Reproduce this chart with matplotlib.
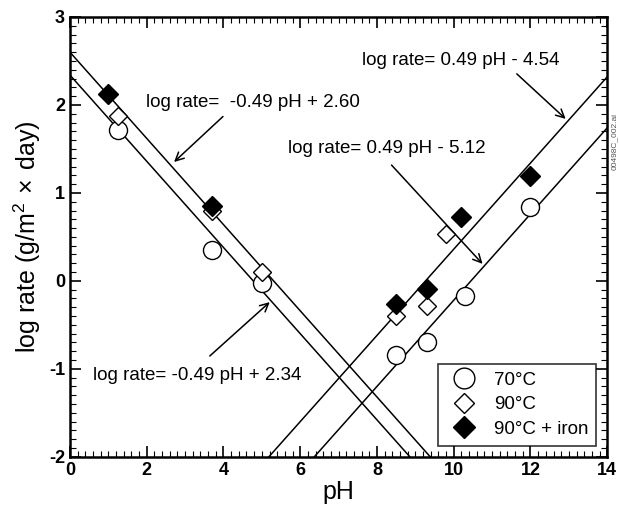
import numpy as np
import matplotlib
matplotlib.use("Agg")
import matplotlib.pyplot as plt
from matplotlib.ticker import MultipleLocator

plt.rcParams['font.family'] = ['Liberation Sans', 'DejaVu Sans']
plt.rcParams['axes.unicode_minus'] = False
plt.rcParams['mathtext.fontset'] = 'custom'
plt.rcParams['mathtext.rm'] = 'Liberation Sans'

# data
ph_70 = [1.25, 3.7, 5.0, 8.5, 9.3, 10.3, 12.0]
rate_70 = [1.72, 0.35, -0.02, -0.84, -0.69, -0.17, 0.84]
ph_90 = [1.25, 3.7, 5.0, 8.5, 9.3, 9.8]
rate_90 = [1.87, 0.80, 0.10, -0.40, -0.28, 0.53]
ph_iron = [1.0, 3.7, 8.5, 9.3, 10.2, 12.0]
rate_iron = [2.12, 0.85, -0.26, -0.09, 0.73, 1.19]

# fitted lines (slope, intercept)
fits = [(-0.49, 2.60), (-0.49, 2.34), (0.49, -4.54), (0.49, -5.12)]
fit_labels = ["log rate=  -0.49 pH + 2.60", "log rate= -0.49 pH + 2.34",
              "log rate= 0.49 pH - 4.54", "log rate= 0.49 pH - 5.12"]
# text position, arrow start, arrow tip
label_pos = [(1.98, 2.03), (0.6, -1.07), (7.6, 2.51), (5.68, 1.51)]
arrow_from = [(4.04, 1.89), (3.59, -0.875), (11.59, 2.375), (8.33, 1.34)]
arrow_to = [(2.66, 1.33), (5.26, -0.22), (12.97, 1.82), (10.8, 0.17)]

fig = plt.figure(figsize=(6.19, 5.15), dpi=100)
ax = fig.add_axes([0.113, 0.113, 0.868, 0.854])

xs = np.linspace(0, 14, 200)
for m, b in fits:
    ax.plot(xs, m * xs + b, color='black', lw=1.1, zorder=2)

ax.plot(ph_70, rate_70, 'o', ms=13, mfc='white', mec='black', mew=1.0,
        label='70°C', zorder=3)
ax.plot(ph_90, rate_90, 'D', ms=9, mfc='white', mec='black', mew=1.0,
        label='90°C', zorder=4)
ax.plot(ph_iron, rate_iron, 'D', ms=10, mfc='black', mec='black',
        label='90°C + iron', zorder=5)

for lab, tp, a0, a1 in zip(fit_labels, label_pos, arrow_from, arrow_to):
    ax.text(tp[0], tp[1], lab, fontsize=13.5, va='center', ha='left')
    ax.annotate('', xy=a1, xytext=a0,
                arrowprops=dict(arrowstyle='->', color='black', lw=1.1,
                                mutation_scale=15))

ax.set_xlim(0, 14)
ax.set_ylim(-2, 3)
ax.xaxis.set_major_locator(MultipleLocator(2))
ax.xaxis.set_minor_locator(MultipleLocator(0.2))
ax.yaxis.set_major_locator(MultipleLocator(1))
ax.yaxis.set_minor_locator(MultipleLocator(0.1))
ax.tick_params(which='both', direction='in', top=True, right=True)
ax.tick_params(which='major', length=8, width=1.2, labelsize=13)
ax.tick_params(which='minor', length=4, width=0.8)
for lbl in ax.get_xticklabels() + ax.get_yticklabels():
    lbl.set_fontweight('bold')
for s in ax.spines.values():
    s.set_linewidth(1.8)

ax.set_xlabel('pH', fontsize=18, labelpad=1)
ax.set_ylabel('log rate (g/m$^2$$\\,\\times\\,$day)', fontsize=18, labelpad=4)

leg = ax.legend(loc='lower right', fontsize=13.5, frameon=True, fancybox=False,
                edgecolor='black', borderpad=0.4, handletextpad=0.6,
                labelspacing=0.4, markerscale=1.15, borderaxespad=0.6,
                bbox_to_anchor=(1.0, 0.0))
leg.get_frame().set_linewidth(1.2)

fig.text(0.992, 0.78, '00498C_002.ai', rotation=90, fontsize=6,
         color='#555555', ha='center', va='top')

fig.savefig('out.png', dpi=100)
